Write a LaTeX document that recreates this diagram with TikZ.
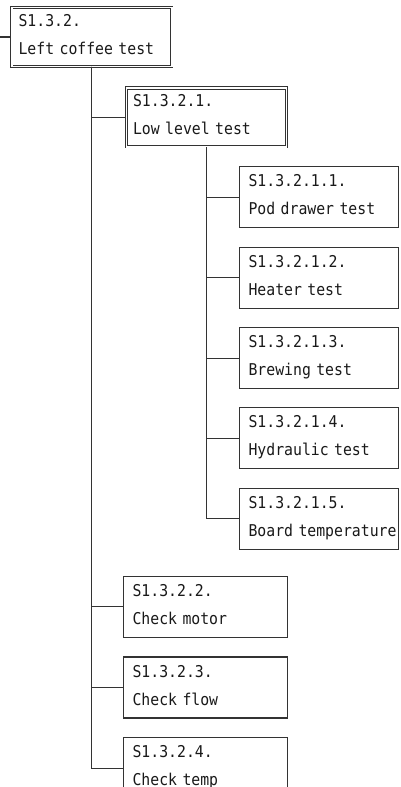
\documentclass[tikz,border=0pt]{standalone}
\usepackage{fontspec}
\setmonofont{DejaVu Sans Mono}[FakeStretch=0.91]
\usetikzlibrary{positioning}

\begin{document}
\begin{tikzpicture}[
  font=\fontsize{12.2}{21}\selectfont\ttfamily,
  testbox/.style={rectangle, draw=black!80, line width=0.8pt, text=black!90, minimum width=123pt, minimum height=45.75pt, text width=110pt, align=left, inner xsep=6.4pt, inner ysep=0pt, execute at begin node={\rule{0pt}{10.5pt}}, execute at end node={\rule[-5.25pt]{0pt}{5.25pt}}},
  groupbox/.style={testbox, double, double distance=1.2pt, line width=0.6pt, minimum width=120pt, minimum height=44pt, inner xsep=5pt},
  leafbox/.style={testbox, minimum width=119pt, text width=106pt},
  link/.style={draw=black!80, line width=0.8pt}
]
\useasboundingbox (0,0) rectangle (300pt,-590.25pt);

% Nodes
\coordinate (up) at (0pt,-27.75pt);
\node[groupbox, right=8.6pt of up] (coffee) {S1.3.2.\\Left coffee test};
\node[groupbox, below=15.7pt of coffee, xshift=85.9pt] (lowlevel) {S1.3.2.1.\\Low level test};

\node[leafbox, below=14.4pt of lowlevel, xshift=84.6pt] (pod) {S1.3.2.1.1.\\Pod drawer test};
\node[leafbox, below=13.7pt of pod] (heater) {S1.3.2.1.2.\\Heater test};
\node[leafbox, below=13.7pt of heater] (brewing) {S1.3.2.1.3.\\Brewing test};
\node[leafbox, below=13.7pt of brewing] (hydraulic) {S1.3.2.1.4.\\Hydraulic test};
\node[leafbox, below=13.7pt of hydraulic] (boardtemp) {S1.3.2.1.5.\\Board~temperature};

\node[testbox, below=19.5pt of boardtemp, xshift=-85pt] (motor) {S1.3.2.2.\\Check motor};
\node[testbox, below=14pt of motor] (flow) {S1.3.2.3.\\Check flow};
\node[testbox, below=14pt of flow] (temp) {S1.3.2.4.\\Check temp};

% Links
\draw[link] (up) -- (coffee.west); % from parent above
\draw[link] (coffee.south) |- (lowlevel.west);
\draw[link] (coffee.south) |- (motor.west);
\draw[link] (coffee.south) |- (flow.west);
\draw[link] (coffee.south) |- (temp.west);

\draw[link] (lowlevel.south) |- (pod.west);
\draw[link] (lowlevel.south) |- (heater.west);
\draw[link] (lowlevel.south) |- (brewing.west);
\draw[link] (lowlevel.south) |- (hydraulic.west);
\draw[link] (lowlevel.south) |- (boardtemp.west);

\end{tikzpicture}
\end{document}
